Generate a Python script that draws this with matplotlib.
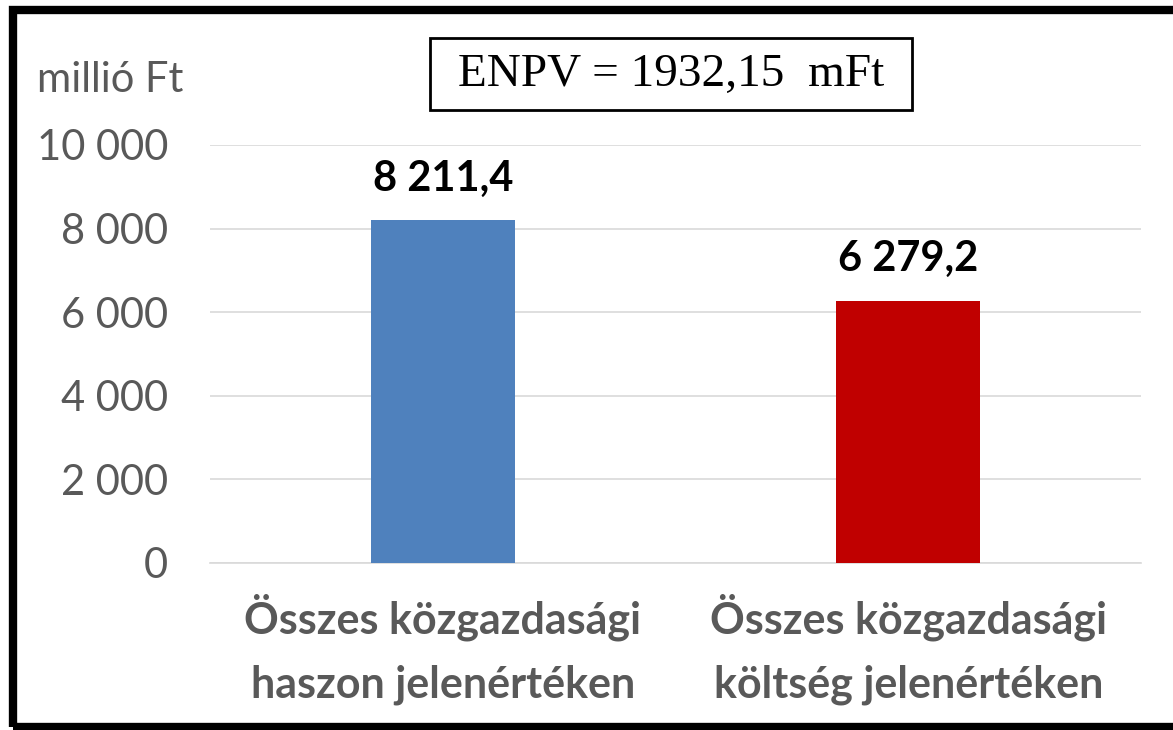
import matplotlib
matplotlib.use("Agg")
import matplotlib.pyplot as plt
from matplotlib.patches import Rectangle

categories = ["Összes közgazdasági\nhaszon jelenértéken", "Összes közgazdasági\nköltség jelenértéken"]
values = [8211.4, 6279.2]
value_labels = ["8 211,4", "6 279,2"]
colors = ["#4F81BD", "#C00000"]
yticks = [0, 2000, 4000, 6000, 8000, 10000]
ytick_labels = ["0", "2 000", "4 000", "6 000", "8 000", "10 000"]
unit_label = "millió Ft"
enpv_text = "ENPV = 1932,15  mFt"

W, H = 1173, 730
fig = plt.figure(figsize=(W / 100, H / 100), dpi=100)
fig.patch.set_facecolor("white")

sans = ["Lato", "Open Sans", "DejaVu Sans"]
gray = "#595959"

ax = fig.add_axes([210 / W, 1 - 563 / H, (1141 - 210) / W, (563 - 145) / H])
x = range(len(categories))
ax.bar(x, values, width=0.31, color=colors, zorder=3)
ax.set_xlim(-0.5, 1.5)
ax.set_ylim(0, 10000)
ax.set_yticks(yticks)
ax.set_yticklabels(ytick_labels, fontsize=30, color=gray, family=sans)
ax.set_xticks(list(x))
ax.set_xticklabels(categories, fontsize=31, color=gray, family=sans,
                   fontweight="bold", linespacing=1.7)
ax.tick_params(axis="both", length=0)
ax.tick_params(axis="y", pad=30)
ax.tick_params(axis="x", pad=22)
ax.grid(axis="y", color="#D9D9D9", linewidth=1.2, zorder=0)
for s in ["top", "right", "left"]:
    ax.spines[s].set_visible(False)
ax.spines["bottom"].set_color("#D9D9D9")
ax.spines["bottom"].set_linewidth(1.2)

for xi, v, lab in zip(x, values, value_labels):
    ax.annotate(lab, (xi, v), xytext=(0, 16), textcoords="offset points",
                ha="center", va="bottom", fontsize=30, fontweight="bold",
                color="black", family=sans)

fig.text(37 / W, 1 - 80 / H, unit_label, fontsize=30, color=gray, family=sans,
         ha="left", va="center")

# ENPV annotation box
fig.patches.append(Rectangle((430 / W, 1 - 110 / H), (912 - 430) / W, (110 - 38) / H,
                             transform=fig.transFigure, facecolor="white",
                             edgecolor="black", linewidth=2, zorder=5))
fig.text(671 / W, 1 - 75 / H, enpv_text, fontsize=34, color="black",
         family=["Liberation Serif", "DejaVu Serif"], ha="center", va="center",
         zorder=6)

fig.patches.append(Rectangle((13 / W, 3 / H), (W - 13) / W + 0.01, (H - 13) / H,
                             transform=fig.transFigure, fill=False,
                             edgecolor="black", linewidth=6, zorder=10))

fig.savefig("out.png", dpi=100)
